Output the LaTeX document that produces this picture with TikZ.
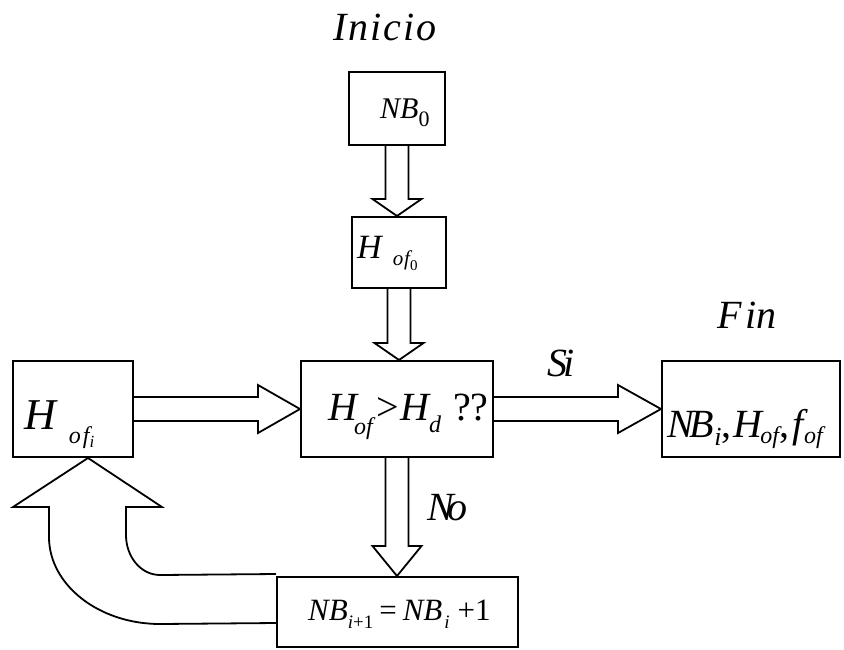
\documentclass[tikz,border=0pt]{standalone}
\usepackage{fontspec}
\setmainfont{Liberation Serif}
\usetikzlibrary{calc}
\newcommand\fs[1]{\fontsize{#1}{#1}\selectfont}
\newcommand\lsub[3]{\raisebox{-#1}{\fs{#2}#3}}
\newcommand\darrowblk[3]{%
  \draw[blk] ($(#1.south)+(-11.5,0)$) -- ($(#2.north -| #1.south)+(-11.5,-#3)$)
    -- ($(#2.north -| #1.south)+(-24.5,-#3)$) -- (#2.north -| #1.south)
    -- ($(#2.north -| #1.south)+(24.5,-#3)$) -- ($(#2.north -| #1.south)+(11.5,-#3)$)
    -- ($(#1.south)+(11.5,0)$);}
\newcommand\rarrowblk[3]{%
  \draw[blk] ($(#1.east)+(0,-12)$) -- ($(#2.west)+(-#3,-12)$)
    -- ($(#2.west)+(-#3,-24)$) -- (#2.west)
    -- ($(#2.west)+(-#3,24)$) -- ($(#2.west)+(-#3,12)$)
    -- ($(#1.east)+(0,12)$);}
\begin{document}
\begin{tikzpicture}[x=1pt,y=-1pt,
  box/.style={draw, line width=2pt, inner sep=0pt, rectangle},
  blk/.style={draw, line width=1.8pt, line join=miter},
  txt/.style={anchor=base west, inner sep=0pt, font=\itshape},
  ctxt/.style={anchor=base, inner sep=0pt, font=\itshape}]
\useasboundingbox (0,0) rectangle (844,649);

% boxes
\node[box, minimum width=96pt, minimum height=73pt] (nb0) at (397,108.5) {};
\node[box, minimum width=94pt, minimum height=71pt] (hof0) at (399,252.5) {};
\node[box, minimum width=192pt, minimum height=96pt] (main) at (397,409) {};
\node[box, minimum width=120pt, minimum height=96pt] (hofi) at (73,409) {};
\node[box, minimum width=178pt, minimum height=96pt] (fin) at (751,409) {};
\node[box, minimum width=241pt, minimum height=70pt] (nbp) at (397.5,612) {};

% texts
\node[ctxt] (tinicio) at (385,40) {\fs{40}I\kern2pt n\kern2pt i\kern2pt c\kern2pt i\kern2pt o};
\node[ctxt] (tfin) at (747,328) {\fs{40}F\kern4pt in};
\node[txt] (tnb0) at (380,118) {\fs{30}NB\lsub{8pt}{22}{\upshape 0}};
\node[txt] (thof0) at (357,258) {\fs{34}H\kern11pt\lsub{7pt}{21}{o\kern1pt f}\lsub{12pt}{15}{\upshape 0}};
\node[txt] (thofi) at (24,429) {\fs{44}H\kern13pt\lsub{14pt}{24}{o\kern2pt f}\lsub{18pt}{17}{i}};
\node[txt] (tmain) at (328,420) {\fs{40}H\kern-3pt\lsub{14pt}{24}{of}\kern4pt{\upshape >}\kern1pt H\lsub{12pt}{24}{d}\kern12pt{\upshape ??}};
\node[txt] (tfinbox) at (667,437) {\fs{40}N\kern-4pt B\lsub{8pt}{26}{i}{\upshape ,}\kern2pt H\kern-2pt\lsub{6pt}{24}{of}{\upshape ,}\kern3pt f\kern1pt\lsub{6pt}{24}{of}};
\node[txt] (tsi) at (547,376) {\fs{40}S\kern-4pt i};
\node[txt] (tno) at (427,520) {\fs{40}N\kern-6pt o};
\node[txt] (tnbp) at (308,620) {\fs{31}NB\lsub{8pt}{19}{i{\upshape +1}}\kern6pt{\upshape =}\kern6pt NB\kern2pt\lsub{8pt}{19}{i}\kern8pt{\upshape +1}};

% block arrows
\darrowblk{nb0}{hof0}{17}
\darrowblk{hof0}{main}{17}
\darrowblk{main}{nbp}{30}
\rarrowblk{hofi}{main}{42}
\rarrowblk{main}{fin}{43}

% curved return arrow
\coordinate (tip) at ($(hofi.south)+(15,0)$);
\draw[blk] ($(nbp.north west)+(0,-2)$) -- (160,575)
  .. controls (141,575) and (126,557) .. (126,535) -- (126,507) -- (162,507)
  -- (tip) -- (13,507) -- (49,507) -- (49,537)
  .. controls (49,585) and (99,624) .. (160,624) -- ($(nbp.north west)+(0,47)$);
\end{tikzpicture}
\end{document}
